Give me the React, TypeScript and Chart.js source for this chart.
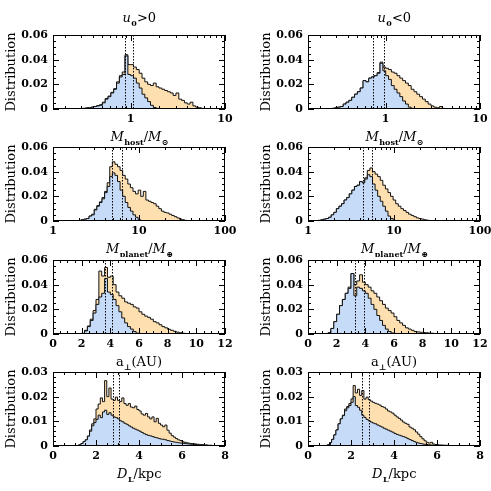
import React, { useEffect, useRef } from 'react';
import { Chart, registerables } from 'chart.js';

Chart.register(...registerables);

// ---------------- axis ranges ----------------
const hostRange = [0.15, 10];
const planetRange = [1, 100];
const sepRange = [0, 12];
const distRange = [0, 8];
const yRangeMain = [0, 0.06];
const yRangeDist = [0, 0.03];

// ---------------- data (histogram bins) ----------------
// Row 1: M_host/M_sun, bins in log10, start & width
const hostPosStart = -0.6;
const hostPosWidth = 0.03;
const hostPosBlue = [0, 0.0002, 0.0003, 0.0005, 0.0008, 0.001, 0.0015, 0.002, 0.0025, 0.003, 0.005, 0.008, 0.010, 0.013, 0.016, 0.021, 0.026, 0.028, 0.043, 0.028, 0.027, 0.025, 0.021, 0.017, 0.012, 0.009, 0.006, 0.003, 0.0012, 0.0005, 0];
const hostPosOrange = [0, 0.0002, 0.0003, 0.0005, 0.0008, 0.001, 0.0015, 0.002, 0.0028, 0.0035, 0.0055, 0.0085, 0.0105, 0.0135, 0.0165, 0.022, 0.027, 0.030, 0.044, 0.036, 0.036, 0.034, 0.032, 0.029, 0.025, 0.022, 0.020, 0.019, 0.021, 0.018, 0.017, 0.016, 0.015, 0.014, 0.013, 0.011, 0.013, 0.008, 0.007, 0.005, 0.004, 0.0055, 0.0025, 0.0015, 0.001, 0.0005, 0.0003, 0.0002, 0];
const hostPosMedians = [0.87, 1.06];

const hostNegStart = -0.6;
const hostNegWidth = 0.03;
const hostNegBlue = [0.0003, 0.0005, 0.001, 0.0015, 0.002, 0.004, 0.0055, 0.007, 0.0095, 0.012, 0.014, 0.017, 0.023, 0.022, 0.025, 0.026, 0.027, 0.029, 0.037, 0.031, 0.027, 0.024, 0.019, 0.016, 0.013, 0.010, 0.0065, 0.004, 0.0015, 0.0005, 0];
const hostNegOrange = [0.0003, 0.0005, 0.001, 0.0015, 0.002, 0.004, 0.0055, 0.007, 0.0095, 0.012, 0.014, 0.017, 0.023, 0.022, 0.025, 0.026, 0.027, 0.0295, 0.038, 0.034, 0.033, 0.032, 0.030, 0.029, 0.027, 0.025, 0.023, 0.021, 0.019, 0.016, 0.014, 0.012, 0.010, 0.008, 0.006, 0.004, 0.0025, 0.0015, 0.001, 0.002, 0.0005, 0.0004, 0.0003, 0.0002, 0];
const hostNegMedians = [0.74, 0.97];

// Row 2: M_planet/M_earth, bins in log10
const planetPosStart = 0.3;
const planetPosWidth = 0.03;
const planetPosBlue = [0.0005, 0.001, 0.0015, 0.002, 0.004, 0.005, 0.009, 0.012, 0.015, 0.018, 0.023, 0.028, 0.036, 0.039, 0.037, 0.032, 0.025, 0.020, 0.015, 0.011, 0.008, 0.005, 0.003, 0.001, 0];
const planetPosOrange = [0.0005, 0.001, 0.0015, 0.002, 0.004, 0.0055, 0.0095, 0.0125, 0.0155, 0.019, 0.024, 0.031, 0.044, 0.048, 0.046, 0.044, 0.041, 0.037, 0.034, 0.030, 0.027, 0.024, 0.022, 0.025, 0.020, 0.024, 0.017, 0.016, 0.015, 0.014, 0.012, 0.010, 0.008, 0.007, 0.0065, 0.0055, 0.0045, 0.0035, 0.0025, 0.0015, 0.001, 0.0005, 0.0003, 0];
const planetPosMedians = [4.9, 6.3];

const planetNegStart = 0.09;
const planetNegWidth = 0.03;
const planetNegBlue = [0.0003, 0.0005, 0.001, 0.0015, 0.002, 0.003, 0.005, 0.007, 0.010, 0.012, 0.014, 0.017, 0.019, 0.022, 0.025, 0.028, 0.029, 0.032, 0.031, 0.034, 0.0375, 0.036, 0.030, 0.025, 0.020, 0.016, 0.012, 0.008, 0.004, 0.002, 0.0005, 0];
const planetNegOrange = [0.0003, 0.0005, 0.001, 0.0015, 0.002, 0.003, 0.005, 0.007, 0.010, 0.012, 0.014, 0.017, 0.019, 0.022, 0.025, 0.028, 0.029, 0.032, 0.031, 0.035, 0.041, 0.043, 0.040, 0.038, 0.036, 0.033, 0.029, 0.026, 0.023, 0.020, 0.017, 0.014, 0.012, 0.010, 0.0085, 0.007, 0.0055, 0.0045, 0.0035, 0.0025, 0.002, 0.0015, 0.001, 0.0006, 0.0003, 0];
const planetNegMedians = [4.4, 5.5];

// Row 3: a_perp (AU), linear bins
const sepPosStart = 1.8;
const sepPosWidth = 0.2;
const sepPosBlue = [0, 0.0005, 0.0025, 0.006, 0.011, 0.017, 0.024, 0.030, 0.033, 0.045, 0.034, 0.032, 0.028, 0.023, 0.018, 0.013, 0.009, 0.006, 0.004, 0.002, 0.0007, 0.0003, 0];
const sepPosOrange = [0, 0.0005, 0.003, 0.0065, 0.012, 0.019, 0.028, 0.051, 0.047, 0.054, 0.046, 0.047, 0.040, 0.034, 0.031, 0.029, 0.026, 0.025, 0.024, 0.022, 0.021, 0.018, 0.016, 0.0145, 0.0135, 0.012, 0.010, 0.009, 0.0075, 0.006, 0.005, 0.0038, 0.003, 0.0022, 0.0015, 0.001, 0.0006, 0.0004, 0.0002, 0];
const sepPosMedians = [3.63, 4.1];

const sepNegStart = 1.2;
const sepNegWidth = 0.2;
const sepNegBlue = [0, 0.001, 0.0045, 0.010, 0.016, 0.023, 0.028, 0.033, 0.037, 0.049, 0.031, 0.038, 0.037, 0.035, 0.033, 0.029, 0.024, 0.020, 0.015, 0.011, 0.007, 0.004, 0.002, 0.0008, 0.0003, 0];
const sepNegOrange = [0, 0.001, 0.0045, 0.010, 0.016, 0.023, 0.028, 0.033, 0.038, 0.049, 0.040, 0.043, 0.048, 0.042, 0.040, 0.038, 0.035, 0.033, 0.030, 0.027, 0.024, 0.021, 0.019, 0.017, 0.014, 0.011, 0.009, 0.007, 0.005, 0.004, 0.003, 0.002, 0.0017, 0.0014, 0.0012, 0.001, 0.0008, 0.0006, 0.0004, 0.0003, 0];
const sepNegMedians = [3.28, 3.9];

// Row 4: D_L (kpc), linear bins
const distPosStart = 1.1;
const distPosWidth = 0.1;
const distPosBlue = [0.0002, 0.0005, 0.001, 0.0018, 0.0025, 0.004, 0.006, 0.0082, 0.0095, 0.0108, 0.0125, 0.0115, 0.0138, 0.0145, 0.0128, 0.0135, 0.0125, 0.0118, 0.0115, 0.011, 0.0102, 0.0098, 0.0092, 0.0088, 0.0082, 0.0077, 0.0072, 0.0068, 0.0064, 0.006, 0.0055, 0.005, 0.0046, 0.0043, 0.0041, 0.0038, 0.0035, 0.0033, 0.003, 0.0028, 0.0027, 0.0025, 0.0022, 0.002, 0.0018, 0.0016, 0.0015, 0.0013, 0.0012, 0.0011, 0.001, 0.0009, 0.0008, 0.0007, 0.0006, 0.0006, 0.0005, 0.0005, 0.0004, 0.0003, 0.0003, 0.0002, 0.0002, 0.0001, 0];
const distPosOrange = [0.0002, 0.0005, 0.001, 0.0018, 0.0025, 0.004, 0.0065, 0.009, 0.011, 0.015, 0.017, 0.0195, 0.018, 0.0265, 0.020, 0.0235, 0.019, 0.0185, 0.0198, 0.0185, 0.018, 0.0195, 0.0172, 0.0165, 0.0172, 0.0158, 0.0155, 0.0162, 0.0148, 0.0142, 0.013, 0.0125, 0.0132, 0.0118, 0.011, 0.0118, 0.0098, 0.0112, 0.0092, 0.0085, 0.0078, 0.0085, 0.0064, 0.0052, 0.0042, 0.0036, 0.003, 0.0025, 0.0022, 0.0017, 0.0015, 0.0013, 0.0011, 0.001, 0.0009, 0.0008, 0.0007, 0.0006, 0.0005, 0.0004, 0.0004, 0.0003, 0.0003, 0.0002, 0];
const distPosMedians = [2.81, 3.08];

const distNegStart = 0.8;
const distNegWidth = 0.1;
const distNegBlue = [0.0001, 0.0005, 0.0014, 0.0027, 0.0045, 0.0065, 0.009, 0.011, 0.0123, 0.0143, 0.0155, 0.0164, 0.0177, 0.020, 0.0164, 0.0157, 0.0145, 0.0125, 0.0116, 0.0108, 0.0102, 0.0097, 0.0093, 0.009, 0.0085, 0.0081, 0.0077, 0.0072, 0.0068, 0.0064, 0.006, 0.0056, 0.0051, 0.0047, 0.0044, 0.0041, 0.0038, 0.0035, 0.003, 0.0026, 0.0022, 0.0018, 0.0015, 0.0012, 0.001, 0.0008, 0.0007, 0.0006, 0.0005, 0.0004, 0.0003, 0.0003, 0.0002, 0.0002, 0.0002, 0.0001, 0.0001, 0];
const distNegOrange = [0.0001, 0.0005, 0.0014, 0.0027, 0.0045, 0.0065, 0.009, 0.011, 0.0125, 0.015, 0.016, 0.0172, 0.0191, 0.0245, 0.0215, 0.023, 0.0205, 0.0225, 0.019, 0.0198, 0.0188, 0.0182, 0.0177, 0.0173, 0.017, 0.0166, 0.016, 0.0157, 0.015, 0.0142, 0.0138, 0.0133, 0.0125, 0.0118, 0.0112, 0.0105, 0.0097, 0.0092, 0.0088, 0.0077, 0.0072, 0.0066, 0.0057, 0.0048, 0.0038, 0.0029, 0.0021, 0.0015, 0.0012, 0.0015, 0.0008, 0.0006, 0.0005, 0.0004, 0.0004, 0.0003, 0.0003, 0.0002, 0.0002, 0.0002, 0.0001, 0.0001, 0.0001, 0];
const distNegMedians = [2.5, 2.85];

// ---------------- styling / layout ----------------
const BLUE = '#c6dbf7';
const ORANGE = '#fedfb0';
const LINE = '#111111';
const FONT = '"DejaVu Serif", serif';

const CANVAS_W = 241;
const CANVAS_H = 140;
const PAD_TOP = 30;
const Y_AXIS_W = 53;
const X_AXIS_H = 36;
const PAD_RIGHT = 16;

type Piece = { t: string; s?: 'it' | 'sub' | 'rm' };

const titlePos: Piece[] = [{ t: 'u', s: 'it' }, { t: '0', s: 'sub' }, { t: '>0' }];
const titleNeg: Piece[] = [{ t: 'u', s: 'it' }, { t: '0', s: 'sub' }, { t: '<0' }];
const labelHost: Piece[] = [{ t: 'M', s: 'it' }, { t: 'host', s: 'sub' }, { t: '/' }, { t: 'M', s: 'it' }, { t: '\u2299', s: 'sub' }];
const labelPlanet: Piece[] = [{ t: 'M', s: 'it' }, { t: 'planet', s: 'sub' }, { t: '/' }, { t: 'M', s: 'it' }, { t: '\u2295', s: 'sub' }];
const labelSep: Piece[] = [{ t: 'a' }, { t: '\u22A5', s: 'sub' }, { t: '(AU)' }];
const labelDist: Piece[] = [{ t: 'D', s: 'it' }, { t: 'L', s: 'sub' }, { t: '/kpc' }];

type PanelDef = {
  left: number;
  top: number;
  xLog: boolean;
  xRange: number[];
  xMajor?: number;
  xMinor?: number;
  yRange: number[];
  yMajor: number;
  yMinor: number;
  start: number;
  width: number;
  blue: number[];
  orange: number[];
  medians: number[];
  title?: Piece[];
  xLabel: Piece[];
};

const rowTops = [5, 117, 230, 342];
const colLefts = [0, 255];

const panels: PanelDef[] = [
  { left: colLefts[0], top: rowTops[0], xLog: true, xRange: hostRange, yRange: yRangeMain, yMajor: 0.02, yMinor: 0.005, start: hostPosStart, width: hostPosWidth, blue: hostPosBlue, orange: hostPosOrange, medians: hostPosMedians, title: titlePos, xLabel: labelHost },
  { left: colLefts[1], top: rowTops[0], xLog: true, xRange: hostRange, yRange: yRangeMain, yMajor: 0.02, yMinor: 0.005, start: hostNegStart, width: hostNegWidth, blue: hostNegBlue, orange: hostNegOrange, medians: hostNegMedians, title: titleNeg, xLabel: labelHost },
  { left: colLefts[0], top: rowTops[1], xLog: true, xRange: planetRange, yRange: yRangeMain, yMajor: 0.02, yMinor: 0.005, start: planetPosStart, width: planetPosWidth, blue: planetPosBlue, orange: planetPosOrange, medians: planetPosMedians, xLabel: labelPlanet },
  { left: colLefts[1], top: rowTops[1], xLog: true, xRange: planetRange, yRange: yRangeMain, yMajor: 0.02, yMinor: 0.005, start: planetNegStart, width: planetNegWidth, blue: planetNegBlue, orange: planetNegOrange, medians: planetNegMedians, xLabel: labelPlanet },
  { left: colLefts[0], top: rowTops[2], xLog: false, xRange: sepRange, xMajor: 2, xMinor: 0.5, yRange: yRangeMain, yMajor: 0.02, yMinor: 0.005, start: sepPosStart, width: sepPosWidth, blue: sepPosBlue, orange: sepPosOrange, medians: sepPosMedians, xLabel: labelSep },
  { left: colLefts[1], top: rowTops[2], xLog: false, xRange: sepRange, xMajor: 2, xMinor: 0.5, yRange: yRangeMain, yMajor: 0.02, yMinor: 0.005, start: sepNegStart, width: sepNegWidth, blue: sepNegBlue, orange: sepNegOrange, medians: sepNegMedians, xLabel: labelSep },
  { left: colLefts[0], top: rowTops[3], xLog: false, xRange: distRange, xMajor: 2, xMinor: 0.5, yRange: yRangeDist, yMajor: 0.01, yMinor: 0.002, start: distPosStart, width: distPosWidth, blue: distPosBlue, orange: distPosOrange, medians: distPosMedians, xLabel: labelDist },
  { left: colLefts[1], top: rowTops[3], xLog: false, xRange: distRange, xMajor: 2, xMinor: 0.5, yRange: yRangeDist, yMajor: 0.01, yMinor: 0.002, start: distNegStart, width: distNegWidth, blue: distNegBlue, orange: distNegOrange, medians: distNegMedians, xLabel: labelDist },
];

// ---------------- helpers ----------------
function histPoints(start: number, width: number, vals: number[], log: boolean) {
  const edge = (i: number) => (log ? Math.pow(10, start + i * width) : start + i * width);
  const pts: { x: number; y: number }[] = [{ x: edge(0), y: 0 }];
  vals.forEach((v, i) => pts.push({ x: edge(i), y: v }));
  pts.push({ x: edge(vals.length), y: 0 });
  return pts;
}

type Tk = { v: number; major: boolean };

function linTicks(min: number, max: number, major: number, minor: number): Tk[] {
  const out: Tk[] = [];
  const n = Math.round((max - min) / minor);
  for (let i = 0; i <= n; i++) {
    const v = min + i * minor;
    const r = v / major;
    out.push({ v, major: Math.abs(r - Math.round(r)) < 1e-6 });
  }
  return out;
}

function logTicks(min: number, max: number): Tk[] {
  const out: Tk[] = [];
  const d0 = Math.floor(Math.log10(min));
  const d1 = Math.ceil(Math.log10(max));
  for (let d = d0; d <= d1; d++) {
    for (let k = 1; k <= 9; k++) {
      const v = k * Math.pow(10, d);
      if (v >= min * 0.9999 && v <= max * 1.0001) out.push({ v, major: k === 1 });
    }
  }
  return out;
}

function drawRich(ctx: CanvasRenderingContext2D, pieces: Piece[], cx: number, baseline: number, size: number) {
  const fontFor = (p: Piece) =>
    p.s === 'it' ? `italic ${size}px ${FONT}` : p.s === 'sub' ? `bold ${Math.round(size * 0.62)}px ${FONT}` : `${size}px ${FONT}`;
  const widths = pieces.map((p) => {
    ctx.font = fontFor(p);
    return ctx.measureText(p.t).width;
  });
  const total = widths.reduce((a, b) => a + b, 0);
  let x = cx - total / 2;
  ctx.fillStyle = '#000';
  ctx.textAlign = 'left';
  ctx.textBaseline = 'alphabetic';
  pieces.forEach((p, i) => {
    ctx.font = fontFor(p);
    ctx.fillText(p.t, x, baseline + (p.s === 'sub' ? Math.round(size * 0.28) : 0));
    x += widths[i] + (p.s === 'it' ? 0.5 : 0);
  });
}

function makeDecor(def: PanelDef) {
  return {
    id: 'panelDecor',
    afterDatasetsDraw(chart: any) {
      const ctx: CanvasRenderingContext2D = chart.ctx;
      const a = chart.chartArea;
      const xs = chart.scales.x;
      const ys = chart.scales.y;
      ctx.save();
      // median lines
      ctx.strokeStyle = '#000';
      ctx.lineWidth = 1;
      ctx.setLineDash([1.5, 1.5]);
      ctx.beginPath();
      def.medians.forEach((v) => {
        const px = Math.round(xs.getPixelForValue(v)) + 0.5;
        ctx.moveTo(px, a.top);
        ctx.lineTo(px, a.bottom);
      });
      ctx.stroke();
      ctx.setLineDash([]);
      // ticks
      ctx.beginPath();
      const xt = def.xLog ? logTicks(def.xRange[0], def.xRange[1]) : linTicks(def.xRange[0], def.xRange[1], def.xMajor!, def.xMinor!);
      xt.forEach((t) => {
        const px = Math.round(xs.getPixelForValue(t.v)) + 0.5;
        const len = t.major ? 6 : 3;
        ctx.moveTo(px, a.bottom);
        ctx.lineTo(px, a.bottom - len);
        ctx.moveTo(px, a.top);
        ctx.lineTo(px, a.top + len);
      });
      const yt = linTicks(def.yRange[0], def.yRange[1], def.yMajor, def.yMinor);
      yt.forEach((t) => {
        const py = Math.round(ys.getPixelForValue(t.v)) + 0.5;
        const len = t.major ? 6 : 3;
        ctx.moveTo(a.left, py);
        ctx.lineTo(a.left + len, py);
        ctx.moveTo(a.right, py);
        ctx.lineTo(a.right - len, py);
      });
      ctx.stroke();
      // frame
      ctx.strokeRect(Math.round(a.left) + 0.5, Math.round(a.top) + 0.5, Math.round(a.right - a.left) - 1, Math.round(a.bottom - a.top) - 1);
      // texts
      const cx = (a.left + a.right) / 2;
      if (def.title) drawRich(ctx, def.title, cx, a.top - 13, 13);
      drawRich(ctx, def.xLabel, cx, a.bottom + 32, 13);
      ctx.restore();
    },
  };
}

function Panel({ def }: { def: PanelDef }) {
  const ref = useRef<HTMLCanvasElement>(null);
  useEffect(() => {
    const canvas = ref.current;
    if (!canvas) return;
    const logFmt = (v: number) => {
      const l = Math.log10(v);
      return Math.abs(l - Math.round(l)) < 1e-6 ? String(Math.round(v)) : '';
    };
    const chart = new Chart(canvas, {
      type: 'line',
      data: {
        datasets: [
          {
            data: histPoints(def.start, def.width, def.blue, def.xLog),
            stepped: 'before',
            fill: 'origin',
            backgroundColor: BLUE,
            borderColor: LINE,
            borderWidth: 1,
            pointRadius: 0,
            order: 0,
          },
          {
            data: histPoints(def.start, def.width, def.orange, def.xLog),
            stepped: 'before',
            fill: 'origin',
            backgroundColor: ORANGE,
            borderColor: LINE,
            borderWidth: 1,
            pointRadius: 0,
            order: 1,
          },
        ],
      },
      options: {
        animation: false,
        responsive: false,
        events: [],
        layout: { padding: { top: PAD_TOP, right: PAD_RIGHT, left: 0, bottom: 0 } },
        plugins: { legend: { display: false }, tooltip: { enabled: false } },
        scales: {
          x: {
            type: def.xLog ? 'logarithmic' : 'linear',
            min: def.xRange[0],
            max: def.xRange[1],
            grid: { display: false, drawTicks: false },
            border: { display: false },
            ticks: {
              autoSkip: false,
              maxRotation: 0,
              padding: 4,
              color: '#000',
              font: { family: FONT, size: 11, weight: 'bold' },
              ...(def.xLog ? { callback: (v: any) => logFmt(Number(v)) } : { stepSize: def.xMajor }),
            },
            afterFit: (s: any) => {
              s.height = X_AXIS_H;
              s.paddingLeft = 0;
              s.paddingRight = 0;
            },
          } as any,
          y: {
            type: 'linear',
            min: def.yRange[0],
            max: def.yRange[1],
            grid: { display: false, drawTicks: false },
            border: { display: false },
            ticks: {
              autoSkip: false,
              stepSize: def.yMajor,
              padding: 5,
              color: '#000',
              font: { family: FONT, size: 11, weight: 'bold' },
            },
            title: {
              display: true,
              text: 'Distribution',
              color: '#000',
              font: { family: FONT, size: 13 },
              padding: { top: 4, bottom: 0 },
            },
            afterFit: (s: any) => {
              s.width = Y_AXIS_W;
              s.paddingTop = 0;
              s.paddingBottom = 0;
            },
          } as any,
        },
      },
      plugins: [makeDecor(def)],
    } as any);
    return () => chart.destroy();
  }, [def]);
  return (
    <canvas
      ref={ref}
      width={CANVAS_W}
      height={CANVAS_H}
      style={{ position: 'absolute', left: def.left, top: def.top, width: CANVAS_W, height: CANVAS_H }}
    />
  );
}

export default function App() {
  return (
    <div style={{ position: 'absolute', left: 0, top: 0, width: 491, height: 491, background: '#fff', overflow: 'hidden' }}>
      {panels.map((p, i) => (
        <Panel key={i} def={p} />
      ))}
    </div>
  );
}
